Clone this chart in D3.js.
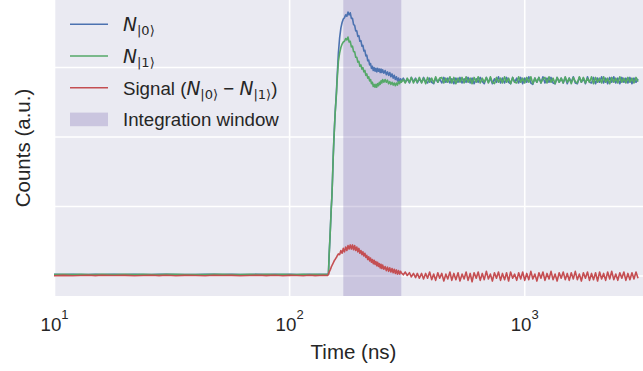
<!DOCTYPE html>
<html>
<head>
<meta charset="utf-8">
<script src="https://cdn.jsdelivr.net/npm/d3@7"></script>
<style>
  html, body { margin: 0; padding: 0; background: #ffffff; }
  svg { display: block; }
  text { font-family: "Liberation Sans", Arial, "DejaVu Sans", sans-serif; fill: #262626; }
</style>
</head>
<body>
<svg id="chart" width="643" height="371"></svg>
<script>
// ---------------- DATA ----------------
const times = [
  10, 11, 12, 13, 14, 15, 16, 18, 20, 22,
  24, 26, 28, 30, 33, 36, 40, 44, 48, 52,
  57, 62, 68, 74, 80, 87, 94, 101, 108, 115,
  122, 129, 135, 140, 144, 146,
  147, 148, 149, 150, 151, 152, 153, 154, 155, 156,
  157, 158, 159, 160, 162, 164, 166, 168, 170, 172,
  174, 176, 178, 180, 182, 184, 186, 188, 190, 192,
  194, 196, 198, 200, 202, 204, 206, 208, 210, 212,
  214, 216, 218, 220, 222, 224, 226, 228, 230, 232,
  234, 236, 238, 240, 242, 244, 246, 248, 250, 253,
  256, 259, 262, 265, 268, 271, 274, 277, 280, 283,
  286, 289, 292, 295, 298,
  300, 306, 312, 318, 325, 331, 338, 345, 351, 358,
  366, 373, 381, 388, 396, 404, 412, 420, 429, 437,
  446, 455, 464, 473, 483, 492, 502, 512, 523, 533,
  544, 555, 566, 577, 589, 600, 612, 625, 637, 650,
  663, 676, 690, 704, 718, 732, 747, 762, 777, 793,
  808, 825, 841, 858, 875, 893, 910, 929, 947, 966,
  985, 1005, 1025, 1046, 1067, 1088, 1110, 1132, 1155, 1178,
  1201, 1225, 1250, 1275, 1300, 1326, 1353, 1380, 1408, 1436,
  1465, 1494, 1524, 1554, 1585, 1617, 1649, 1682, 1716, 1750,
  1785, 1821, 1858, 1895, 1933, 1971, 2011, 2051, 2092, 2134,
  2176, 2220, 2264, 2310, 2356, 2403, 2451, 2500, 2550, 2601,
  2653, 2706, 2760, 2815, 2872, 2929, 2988, 3048
];

const n0 = [
  0.016, 0.014, 0.017, 0.013, 0.015, 0.018, 0.012, 0.016, 0.014, 0.017,
  0.015, 0.013, 0.016, 0.018, 0.014, 0.015, 0.012, 0.017, 0.016, 0.014,
  0.018, 0.013, 0.015, 0.017, 0.014, 0.016, 0.012, 0.018, 0.015, 0.013,
  0.017, 0.014, 0.016, 0.015, 0.017, 0.016,
  0.02, 0.30, 0.50, 0.72, 0.95, 1.13, 1.40, 1.70, 1.95, 2.15,
  2.35, 2.50, 2.65, 2.85, 3.20, 3.42, 3.56, 3.64, 3.69, 3.71,
  3.75, 3.73, 3.79, 3.75, 3.78, 3.70, 3.70, 3.61, 3.60, 3.52,
  3.52, 3.44, 3.45, 3.37, 3.38, 3.30, 3.31, 3.23, 3.24, 3.16,
  3.17, 3.09, 3.10, 3.03, 3.05, 2.98, 3.01, 2.95, 2.99, 2.94,
  2.98, 2.93, 2.98, 2.94, 2.97, 2.92, 2.97, 2.92, 2.96, 2.91,
  2.95, 2.89, 2.93, 2.88, 2.92, 2.86, 2.90, 2.84, 2.88, 2.82,
  2.86, 2.80, 2.84, 2.78, 2.83,
  2.79, 2.84, 2.78, 2.83, 2.77, 2.85, 2.79, 2.84, 2.77, 2.83,
  2.78, 2.85, 2.79, 2.77, 2.84, 2.78, 2.76, 2.84, 2.78, 2.83,
  2.77, 2.85, 2.78, 2.84, 2.77, 2.83, 2.76, 2.84, 2.78, 2.85,
  2.77, 2.83, 2.78, 2.85, 2.77, 2.84, 2.76, 2.83, 2.78, 2.85,
  2.79, 2.76, 2.85, 2.78, 2.84, 2.76, 2.83, 2.78, 2.86, 2.77,
  2.84, 2.77, 2.85, 2.78, 2.76, 2.85, 2.78, 2.84, 2.77, 2.85,
  2.76, 2.84, 2.78, 2.86, 2.77, 2.75, 2.84, 2.78, 2.85, 2.77,
  2.86, 2.77, 2.84, 2.78, 2.85, 2.77, 2.76, 2.85, 2.78, 2.84,
  2.77, 2.85, 2.76, 2.84, 2.78, 2.86, 2.77, 2.76, 2.85, 2.78,
  2.84, 2.76, 2.86, 2.78, 2.77, 2.85, 2.76, 2.84, 2.78, 2.86,
  2.77, 2.84, 2.76, 2.85, 2.78, 2.86, 2.77, 2.84, 2.76, 2.85,
  2.78, 2.84, 2.77, 2.85, 2.76, 2.84, 2.78, 2.83
];

const n1 = [
  0.015, 0.017, 0.013, 0.016, 0.014, 0.015, 0.018, 0.013, 0.016, 0.014,
  0.017, 0.015, 0.012, 0.016, 0.018, 0.014, 0.015, 0.013, 0.017, 0.016,
  0.014, 0.015, 0.018, 0.013, 0.016, 0.015, 0.017, 0.014, 0.013, 0.016,
  0.015, 0.018, 0.014, 0.016, 0.015, 0.017,
  0.02, 0.30, 0.50, 0.72, 0.95, 1.13, 1.40, 1.70, 1.95, 2.15,
  2.33, 2.48, 2.62, 2.80, 3.08, 3.20, 3.28, 3.33, 3.36, 3.37,
  3.41, 3.39, 3.43, 3.36, 3.37, 3.29, 3.30, 3.22, 3.22, 3.14,
  3.14, 3.07, 3.08, 3.01, 3.03, 2.97, 2.99, 2.93, 2.95, 2.88,
  2.90, 2.84, 2.86, 2.80, 2.82, 2.76, 2.78, 2.72, 2.75, 2.71,
  2.75, 2.71, 2.76, 2.73, 2.78, 2.75, 2.80, 2.77, 2.82, 2.78,
  2.82, 2.78, 2.81, 2.76, 2.79, 2.75, 2.78, 2.74, 2.77, 2.73,
  2.77, 2.74, 2.79, 2.76, 2.80,
  2.78, 2.82, 2.77, 2.84, 2.78, 2.85, 2.77, 2.83, 2.78, 2.85,
  2.77, 2.84, 2.76, 2.85, 2.78, 2.84, 2.77, 2.86, 2.78, 2.84,
  2.85, 2.77, 2.84, 2.78, 2.86, 2.77, 2.85, 2.76, 2.84, 2.78,
  2.85, 2.77, 2.86, 2.78, 2.84, 2.76, 2.85, 2.78, 2.86, 2.77,
  2.84, 2.78, 2.85, 2.77, 2.86, 2.78, 2.76, 2.85, 2.78, 2.84,
  2.77, 2.86, 2.78, 2.84, 2.76, 2.85, 2.78, 2.77, 2.86, 2.78,
  2.84, 2.77, 2.85, 2.78, 2.86, 2.76, 2.84, 2.78, 2.85, 2.77,
  2.83, 2.85, 2.77, 2.86, 2.78, 2.84, 2.76, 2.85, 2.78, 2.84,
  2.77, 2.86, 2.78, 2.84, 2.76, 2.85, 2.79, 2.77, 2.86, 2.78,
  2.85, 2.77, 2.84, 2.78, 2.86, 2.76, 2.85, 2.78, 2.84, 2.77,
  2.86, 2.78, 2.84, 2.76, 2.85, 2.78, 2.84, 2.77, 2.86, 2.78,
  2.84, 2.77, 2.85, 2.78, 2.84, 2.77, 2.85, 2.79
];

const signal = [
  -0.003, 0.002, -0.004, 0.001, 0.003, -0.002, 0.004, -0.001, 0.002, -0.003,
  0.001, 0.004, -0.002, 0.003, -0.004, 0.002, 0.000, -0.003, 0.004, -0.001,
  0.002, -0.003, 0.001, 0.003, -0.002, 0.004, -0.004, 0.002, 0.001, -0.003,
  0.003, -0.002, 0.001, 0.003, -0.001, 0.002,
  0.02, 0.05, 0.07, 0.09, 0.12, 0.14, 0.16, 0.18, 0.20, 0.22,
  0.23, 0.25, 0.26, 0.28, 0.31, 0.30, 0.36, 0.32, 0.39, 0.34,
  0.41, 0.36, 0.43, 0.38, 0.44, 0.38, 0.44, 0.37, 0.43, 0.36,
  0.41, 0.34, 0.39, 0.32, 0.36, 0.30, 0.34, 0.28, 0.32, 0.26,
  0.29, 0.23, 0.27, 0.21, 0.25, 0.19, 0.23, 0.17, 0.22, 0.16,
  0.20, 0.14, 0.19, 0.13, 0.17, 0.11, 0.16, 0.10, 0.15, 0.09,
  0.13, 0.07, 0.12, 0.06, 0.11, 0.05, 0.10, 0.04, 0.09, 0.03,
  0.08, 0.02, 0.07, 0.02, 0.06,
  0.04, 0.01, 0.05, 0.00, 0.04, -0.02, 0.03, -0.03, 0.03, -0.04,
  0.03, -0.05, 0.03, -0.04, 0.05, -0.06, 0.02, -0.07, 0.04, -0.04,
  0.03, -0.08, 0.02, -0.05, 0.05, -0.07, 0.03, -0.06, 0.04, -0.08,
  0.02, -0.05, 0.05, -0.07, 0.03, -0.09, 0.04, -0.04, 0.05, -0.07,
  0.03, -0.06, 0.06, -0.05, 0.02, -0.08, 0.04, -0.04, 0.05, -0.07,
  0.03, -0.06, 0.04, -0.08, 0.05, -0.04, 0.02, -0.07, 0.04, -0.05,
  0.05, -0.07, 0.03, -0.06, 0.06, -0.05, 0.02, -0.08, 0.04, -0.04,
  0.05, -0.07, 0.03, -0.05, 0.06, -0.06, 0.02, -0.08, 0.04, -0.04,
  0.05, -0.06, 0.03, -0.07, 0.04, -0.05, 0.06, -0.06, 0.02, -0.08,
  0.04, -0.04, 0.05, -0.07, 0.03, -0.06, 0.04, -0.08, 0.05, -0.05,
  0.03, -0.07, 0.05, -0.05, 0.06, -0.06, 0.02, -0.07, 0.04, -0.04,
  0.05, -0.07, 0.03, -0.06, 0.04, -0.05, 0.05, -0.04
];

const integrationWindow = [170, 300];
const xTickValues = [10, 100, 1000];
const xTickExponents = ["1", "2", "3"];
const yGridValues = [0, 1, 2, 3];
const xDomain = [10, 3200];
const yDomain = [-0.295, 3.964];

// ---------------- LAYOUT ----------------
const svg = d3.select("#chart");
const plot = { left: 54, right: 643, top: 0, bottom: 296 };
const colors = { n0: "#4C72B0", n1: "#55A868", sig: "#C44E52", span: "#8172B3" };

const x = d3.scaleLog().domain(xDomain).range([plot.left, plot.right]);
const y = d3.scaleLinear().domain(yDomain).range([plot.bottom, plot.top]);

svg.append("defs").append("clipPath").attr("id", "clip")
  .append("rect").attr("x", plot.left).attr("y", plot.top)
  .attr("width", plot.right - plot.left).attr("height", plot.bottom - plot.top);

// background
svg.append("rect").attr("x", plot.left).attr("y", plot.top)
  .attr("width", plot.right - plot.left).attr("height", plot.bottom - plot.top)
  .attr("fill", "#EAEAF2");

// gridlines
const gx = svg.append("g").attr("transform", `translate(0,${plot.bottom})`)
  .call(d3.axisBottom(x).tickValues(xTickValues).tickSize(-(plot.bottom - plot.top)).tickFormat(""));
gx.select(".domain").remove();
gx.selectAll(".tick line").attr("stroke", "#ffffff").attr("stroke-width", 1.6);

const gy = svg.append("g").attr("transform", `translate(${plot.left},0)`)
  .call(d3.axisLeft(y).tickValues(yGridValues).tickSize(-(plot.right - plot.left)).tickFormat(""));
gy.select(".domain").remove();
gy.selectAll(".tick line").attr("stroke", "#ffffff").attr("stroke-width", 1.6);

// integration window span
const layer = svg.append("g").attr("clip-path", "url(#clip)");
layer.append("rect")
  .attr("x", x(integrationWindow[0]))
  .attr("width", x(integrationWindow[1]) - x(integrationWindow[0]))
  .attr("y", plot.top).attr("height", plot.bottom - plot.top)
  .attr("fill", colors.span).attr("fill-opacity", 0.3);

// lines
const mk = vals => d3.zip(times, vals);
const line = d3.line().x(d => x(d[0])).y(d => y(d[1]));
[[n0, colors.n0], [n1, colors.n1], [signal, colors.sig]].forEach(([vals, c]) => {
  layer.append("path").datum(mk(vals))
    .attr("d", line).attr("fill", "none")
    .attr("stroke", c).attr("stroke-width", 1.6)
    .attr("stroke-linejoin", "round");
});

// x tick labels
const tl = svg.append("g").attr("transform", `translate(0,${plot.bottom})`)
  .call(d3.axisBottom(x).tickValues(xTickValues).tickSize(0).tickFormat(""));
tl.select(".domain").remove();
tl.selectAll(".tick").each(function(d, i) {
  const t = d3.select(this).append("text")
    .attr("y", 35).attr("text-anchor", "middle")
    .style("font-size", "18.7px");
  t.append("tspan").text("10");
  t.append("tspan").attr("dy", -12).style("font-size", "13px").text(xTickExponents[i]);
});

// axis labels
svg.append("text").attr("x", (plot.left + plot.right) / 2 + 5).attr("y", 359)
  .attr("text-anchor", "middle").style("font-size", "20.5px").text("Time (ns)");
svg.append("text").attr("transform", `translate(30,148) rotate(-90)`)
  .attr("text-anchor", "middle").style("font-size", "20.5px").text("Counts (a.u.)");

// legend
const leg = svg.append("g");
const ly = i => 24.3 + 31.7 * i;
const legendColors = [colors.n0, colors.n1, colors.sig];
legendColors.forEach((c, i) => {
  leg.append("line").attr("x1", 70).attr("x2", 108).attr("y1", ly(i)).attr("y2", ly(i))
    .attr("stroke", c).attr("stroke-width", 1.6);
});
leg.append("rect").attr("x", 70).attr("y", ly(3) - 6.8).attr("width", 38).attr("height", 13.6)
  .attr("fill", colors.span).attr("fill-opacity", 0.3);

const mathFont = "'DejaVu Sans', sans-serif";
function addN(t, sub) {
  t.append("tspan").style("font-style", "italic").style("font-family", mathFont).text("N");
  t.append("tspan").attr("dy", 4).style("font-size", "13px").style("font-family", mathFont)
    .text("|" + sub + "\u27E9");
}
const fs = "18.7px";
const t0 = leg.append("text").attr("x", 123).attr("y", ly(0) + 7).style("font-size", fs);
addN(t0, "0");
const t1 = leg.append("text").attr("x", 123).attr("y", ly(1) + 7).style("font-size", fs);
addN(t1, "1");
const t2 = leg.append("text").attr("x", 123).attr("y", ly(2) + 7).style("font-size", fs);
t2.append("tspan").text("Signal (");
addN(t2, "0");
t2.append("tspan").attr("dy", -4).text(" \u2212 ");
addN(t2, "1");
t2.append("tspan").attr("dy", -4).text(")");
leg.append("text").attr("x", 123).attr("y", ly(3) + 7).style("font-size", fs).text("Integration window");
</script>
</body>
</html>
